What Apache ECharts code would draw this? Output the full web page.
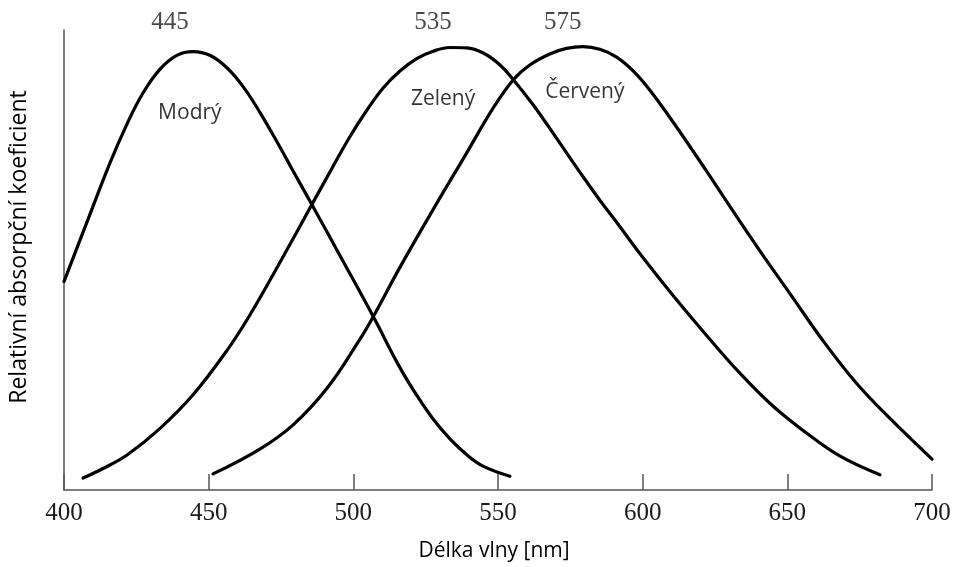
<!DOCTYPE html>
<html>
<head>
<meta charset="utf-8">
<script src="https://cdn.jsdelivr.net/npm/echarts@6/dist/echarts.min.js"></script>
<style>
html,body{margin:0;padding:0;background:#fff;}
#chart{width:956px;height:567px;}
</style>
</head>
<body>
<div id="chart"></div>
<script>
// Wavelengths (nm) and relative absorption values
const blueX = [400.0, 407.3, 415.9, 421.8, 427.3, 433.2, 439.0, 444.6, 450.4, 456.3, 461.9, 467.7, 473.6, 478.8, 485.7, 496.4, 506.8, 516.1, 522.0, 527.5, 533.4, 539.3, 544.8, 554.1];
const blueY = [0.453, 0.572, 0.711, 0.796, 0.863, 0.915, 0.945, 0.953, 0.945, 0.918, 0.877, 0.821, 0.757, 0.698, 0.620, 0.498, 0.378, 0.266, 0.205, 0.155, 0.111, 0.076, 0.052, 0.030];

const greenX = [406.6, 414.2, 421.8, 433.2, 444.6, 456.3, 464.3, 475.0, 485.8, 492.5, 498.8, 504.6, 510.3, 516.1, 521.9, 527.6, 533.4, 539.1, 544.9, 550.7, 555.3, 562.2, 567.9, 573.7, 579.4, 585.2, 591.0, 599.4, 610.5, 622.1, 633.6, 645.1, 656.6, 668.1, 682.0];
const greenY = [0.026, 0.049, 0.076, 0.134, 0.207, 0.303, 0.381, 0.499, 0.622, 0.698, 0.768, 0.825, 0.874, 0.911, 0.938, 0.954, 0.962, 0.961, 0.950, 0.924, 0.892, 0.837, 0.786, 0.733, 0.681, 0.630, 0.582, 0.511, 0.423, 0.336, 0.254, 0.182, 0.124, 0.074, 0.033];

const redX = [451.5, 467.7, 479.1, 490.9, 502.3, 506.9, 516.1, 527.6, 539.2, 548.3, 555.3, 561.0, 567.9, 573.7, 579.4, 585.2, 591.0, 596.7, 602.5, 610.5, 622.1, 633.6, 642.8, 650.9, 662.4, 673.9, 685.4, 700.0];
const redY = [0.035, 0.089, 0.141, 0.221, 0.328, 0.377, 0.484, 0.610, 0.733, 0.830, 0.892, 0.924, 0.948, 0.960, 0.964, 0.958, 0.941, 0.911, 0.869, 0.800, 0.693, 0.584, 0.499, 0.427, 0.324, 0.232, 0.156, 0.067];

// Peak wavelength annotations (text and anchor position)
const peakLabels = ['445', '535', '575'];
const peakLabelX = [436.6, 527.5, 572.4];
const peakLabelY = [1.0, 1.0, 1.0];

// Curve names and their anchor positions
const curveNames = ['Modrý', 'Zelený', 'Červený'];
const curveNameX = [443.5, 531.0, 580.0];
const curveNameY = [0.820, 0.850, 0.866];

// Axis
const xTicks = [400, 450, 500, 550, 600, 650, 700];
const xTitle = 'Délka vlny [nm]';
const yTitle = 'Relativní absorpční koeficient';

function pairs(xs, ys) { return xs.map((x, i) => [x, ys[i]]); }

const chart = echarts.init(document.getElementById('chart'), null, {renderer: 'canvas'});

const curveStyle = {color: '#000', width: 3.2, cap: 'round', join: 'round'};

chart.setOption({
  animation: false,
  backgroundColor: '#fff',
  grid: {left: 64, right: 24, top: 30, bottom: 76, containLabel: false},
  xAxis: {
    type: 'value',
    min: xTicks[0],
    max: xTicks[xTicks.length - 1],
    interval: 50,
    name: xTitle,
    nameLocation: 'middle',
    nameGap: 51,
    nameTextStyle: {fontFamily: 'Open Sans', fontSize: 21, color: '#000', padding: [0, 8, 0, 0]},
    axisLine: {show: true, lineStyle: {color: '#555', width: 1.5}},
    axisTick: {show: true, inside: true, length: 16, lineStyle: {color: '#555', width: 1.5}},
    axisLabel: {fontFamily: 'Liberation Serif', fontSize: 25, color: '#1a1a1a', margin: 11},
    splitLine: {show: false}
  },
  yAxis: {
    type: 'value',
    min: 0,
    max: 1,
    name: yTitle,
    nameLocation: 'middle',
    nameGap: 33,
    nameTextStyle: {fontFamily: 'Open Sans', fontSize: 23, color: '#000', padding: [0, 0, 0, 26]},
    axisLine: {show: true, lineStyle: {color: '#555', width: 1.5}},
    axisTick: {show: false},
    axisLabel: {show: false},
    splitLine: {show: false}
  },
  series: [
    {name: curveNames[0], type: 'line', data: pairs(blueX, blueY), smooth: 0.4, showSymbol: false, symbol: 'none', lineStyle: curveStyle, clip: false},
    {name: curveNames[1], type: 'line', data: pairs(greenX, greenY), smooth: 0.4, showSymbol: false, symbol: 'none', lineStyle: curveStyle, clip: false},
    {name: curveNames[2], type: 'line', data: pairs(redX, redY), smooth: 0.4, showSymbol: false, symbol: 'none', lineStyle: curveStyle, clip: false},
    {
      type: 'scatter', symbolSize: 0, clip: false, silent: true,
      data: peakLabelX.map((x, i) => ({value: [x, peakLabelY[i]], label: {formatter: peakLabels[i]}})),
      label: {show: true, position: 'inside', offset: [0, -8], fontFamily: 'Liberation Serif', fontSize: 25, color: '#1a1a1a'}
    },
    {
      type: 'scatter', symbolSize: 0, clip: false, silent: true,
      data: curveNameX.map((x, i) => ({value: [x, curveNameY[i]], label: {formatter: curveNames[i]}})),
      label: {show: true, position: 'inside', fontFamily: 'Open Sans', fontSize: 21, color: '#000'}
    }
  ]
});
</script>
</body>
</html>
